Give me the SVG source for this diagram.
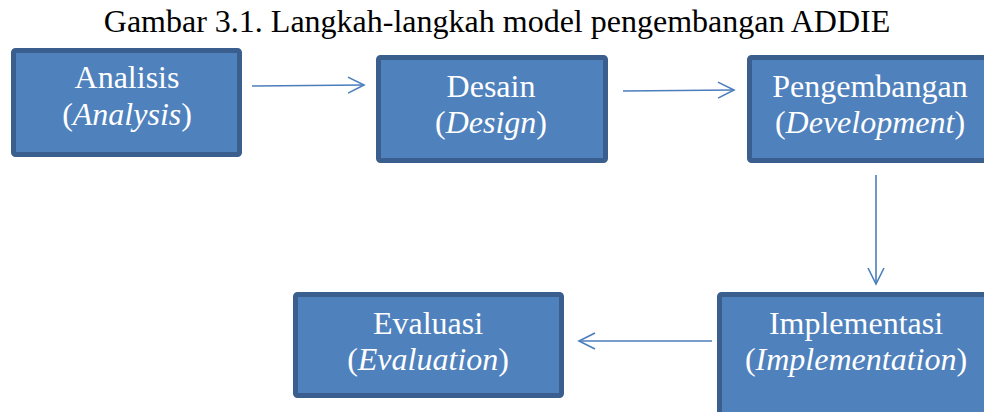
<svg xmlns="http://www.w3.org/2000/svg" width="984" height="412" viewBox="0 0 984 412">
<style>
.box{fill:#4F81BD;stroke:#3A5F8E;stroke-width:5}
.t{font-family:"Liberation Serif","Times New Roman",serif;font-size:32px;fill:#FFFFFF;text-anchor:middle}
.i{font-style:italic}
.title{font-family:"Liberation Serif","Times New Roman",serif;font-size:32px;fill:#000;text-anchor:middle}
.c{stroke:#4A7EBB;stroke-width:1.6;fill:none}
</style>
<defs>
<marker id="ah" viewBox="0 0 20 20" refX="18" refY="10" markerWidth="20" markerHeight="20" markerUnits="userSpaceOnUse" orient="auto">
<path d="M2,2 L18,10 L2,18" fill="none" stroke="#4A7EBB" stroke-width="1.6"/>
</marker>
</defs>
<rect width="984" height="412" fill="#FFFFFF"/>
<text class="title" x="497" y="32">Gambar 3.1. Langkah-langkah model pengembangan ADDIE</text>
<g id="analisis">
<rect class="box" x="13.5" y="50.5" width="226" height="104" rx="2"/>
<text class="t" x="127" y="88">Analisis</text>
<text class="t" x="127" y="125">(<tspan class="i">Analysis</tspan>)</text>
</g>
<g id="desain">
<rect class="box" x="378.5" y="57.5" width="227" height="103" rx="2"/>
<text class="t" x="491" y="97">Desain</text>
<text class="t" x="491" y="133">(<tspan class="i">Design</tspan>)</text>
</g>
<g id="pengembangan">
<rect class="box" x="749.5" y="57.5" width="250" height="103" rx="2"/>
<text class="t" x="870" y="97">Pengembangan</text>
<text class="t" x="870" y="133">(<tspan class="i">Development</tspan>)</text>
</g>
<g id="implementasi">
<rect class="box" x="719.5" y="294.5" width="280" height="130" rx="2"/>
<text class="t" x="856" y="334">Implementasi</text>
<text class="t" x="856" y="370">(<tspan class="i">Implementation</tspan>)</text>
</g>
<g id="evaluasi">
<rect class="box" x="295.5" y="294.5" width="266" height="101" rx="2"/>
<text class="t" x="428" y="334">Evaluasi</text>
<text class="t" x="428" y="370">(<tspan class="i">Evaluation</tspan>)</text>
</g>
<g id="connectors">
<line class="c" x1="252" y1="86" x2="364" y2="85" marker-end="url(#ah)"/>
<line class="c" x1="623" y1="91" x2="734" y2="90" marker-end="url(#ah)"/>
<line class="c" x1="876" y1="175" x2="876" y2="284" marker-end="url(#ah)"/>
<line class="c" x1="712" y1="341" x2="579" y2="341" marker-end="url(#ah)"/>
</g>
</svg>
